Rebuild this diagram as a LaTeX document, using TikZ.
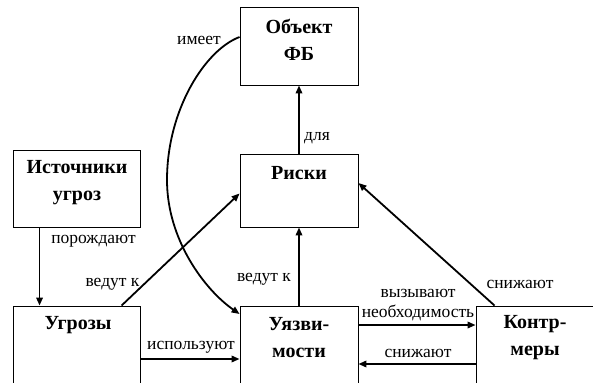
\documentclass[tikz,border=0pt]{standalone}
\usepackage{fontspec}
\setmainfont{Liberation Serif}
\usetikzlibrary{arrows.meta}
\begin{document}
\begin{tikzpicture}[x=1pt,y=-1pt,
  box/.style={draw,line width=0.9pt,minimum width=118pt,inner sep=0pt},
  ttl/.style={font=\fontsize{20}{27}\selectfont\bfseries,align=center,inner sep=0pt},
  lbl/.style={font=\fontsize{17.5}{20.5}\selectfont,align=center,inner sep=0pt},
  arr/.style={line width=1.8pt,-{Triangle[length=8pt,width=6.5pt]}}]
\useasboundingbox (0,0) rectangle (593,382);
\fill[white] (0,0) rectangle (593,382);
\clip (0,0) rectangle (593,382);
% boxes
\node[box,minimum height=78pt] (obj) at (299,46) {};
\node[box,minimum height=73pt] (risk) at (299,190.5) {};
\node[box,minimum width=127pt,minimum height=77pt] (src) at (76.5,188.5) {};
\node[box,minimum width=127pt,minimum height=100pt] (thr) at (76.5,356) {};
\node[box,minimum height=100pt] (vul) at (299,356) {};
\node[box,minimum height=100pt] (cm) at (535,356) {};
% titles
\node[ttl] (tobj) at (299,40) {Объект\\ФБ};
\node[ttl] (trisk) at (299,173) {Риски};
\node[ttl] (tsrc) at (77,183) {Источники\\угроз};
\node[ttl] (tthr) at (78,325) {Угрозы};
\node[ttl] (tvul) at (299,337.5) {Уязви-\\мости};
\node[ttl] (tcm) at (535,337.5) {Контр-\\меры};
% connectors
\draw[arr] (risk.north) -- (obj.south);
\draw[arr] ([xshift=27pt]src.south west) -- ([xshift=27pt]thr.north west);
\draw[arr] ([xshift=109pt]thr.north west) -- ([yshift=-3pt]risk.west);
\draw[arr] (vul.north) -- (risk.south);
\draw[arr] ([yshift=9pt]obj.west) .. controls (205,50) and (167,110) .. (167,180)
  .. controls (167,240) and (205,290) .. ([yshift=42pt]vul.west);
\draw[arr] ([yshift=-3pt]thr.east) -- ([yshift=-3pt]vul.west);
\draw[arr] ([yshift=31pt]vul.east) -- ([yshift=31pt]cm.west);
\draw[arr] ([yshift=-8pt]cm.west) -- ([yshift=-8pt]vul.east);
\draw[arr] ([xshift=19pt]cm.north west) -- ([yshift=7.5pt]risk.east);
% labels
\node[lbl] (l1) at (317,138) {для};
\node[lbl] (l2) at (93.5,241) {порождают};
\node[lbl] (l3) at (112.5,284) {ведут к};
\node[lbl] (l4) at (264,279) {ведут к};
\node[lbl] (l5) at (199,40) {имеет};
\node[lbl] (l6) at (191,347) {используют};
\node[lbl] (l7) at (418,305) {вызывают\\необходимость};
\node[lbl] (l8) at (418,353) {снижают};
\node[lbl] (l9) at (520,284) {снижают};
\end{tikzpicture}
\end{document}
